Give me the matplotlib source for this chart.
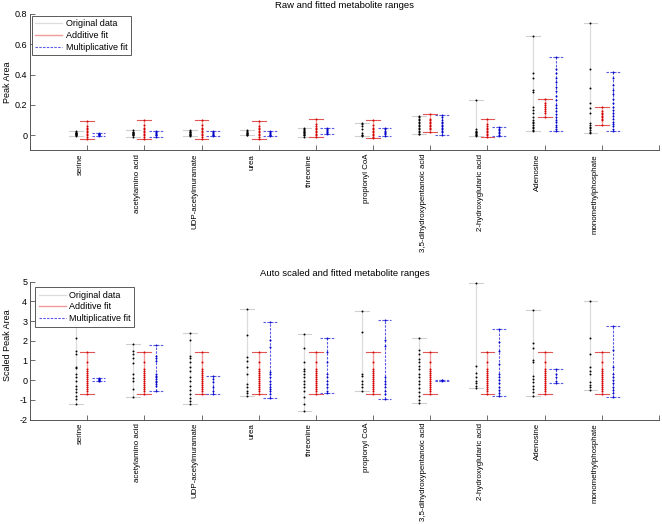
import matplotlib
matplotlib.use("Agg")
import matplotlib.pyplot as plt

plt.rcParams['font.family'] = ['Liberation Sans', 'DejaVu Sans']

metabolites = ["serine", "acetylamino acid", "UDP-acetylmuramate", "urea", "threonine",
               "propionyl CoA", "3,5-dihydroxypentanoic acid", "2-hydroxyglutaric acid",
               "Adenosine", "monomethylphosphate"]

# raw peak areas, one list per metabolite
raw_orig = [
    [0.028, 0.02, 0.017, 0.015, 0.013, 0.011, 0.009, 0.007, 0.005, 0.002, -0.005],
    [0.035, 0.025, 0.02, 0.017, 0.014, 0.011, 0.008, 0.005, 0.002, -0.009],
    [0.037, 0.03, 0.025, 0.02, 0.016, 0.012, 0.008, 0.004, 0.0, -0.003],
    [0.035, 0.028, 0.022, 0.018, 0.014, 0.01, 0.006, 0.003, 0.0],
    [0.05, 0.042, 0.035, 0.03, 0.025, 0.02, 0.015, 0.01, 0.005, 0.0, -0.01],
    [0.083, 0.075, 0.062, 0.045, 0.015, 0.005, 0.0, -0.003],
    [0.129, 0.12, 0.11, 0.1, 0.09, 0.08, 0.07, 0.06, 0.05, 0.04, 0.03, 0.02, 0.01, 0.006],
    [0.23, 0.04, 0.03, 0.025, 0.02, 0.015, 0.01, 0.005, 0.0, -0.003],
    [0.653, 0.412, 0.379, 0.298, 0.287, 0.184, 0.166, 0.149, 0.122, 0.1, 0.089, 0.079,
     0.068, 0.057, 0.046, 0.035, 0.03],
    [0.743, 0.438, 0.309, 0.21, 0.182, 0.149, 0.079, 0.068, 0.057, 0.046, 0.035, 0.024, 0.013],
]
raw_add = [
    [0.094, 0.06, 0.05, 0.04, 0.03, 0.02, 0.01, 0.0, -0.01, -0.024],
    [0.099, 0.065, 0.05, 0.04, 0.03, 0.02, 0.01, 0.0, -0.01, -0.022],
    [0.099, 0.065, 0.05, 0.04, 0.03, 0.02, 0.01, 0.0, -0.01, -0.024],
    [0.094, 0.06, 0.05, 0.04, 0.03, 0.02, 0.01, 0.0, -0.01, -0.026],
    [0.105, 0.075, 0.06, 0.05, 0.04, 0.03, 0.02, 0.01, 0.0, -0.01],
    [0.099, 0.065, 0.05, 0.04, 0.03, 0.02, 0.01, 0.0, -0.01, -0.018],
    [0.138, 0.11, 0.1, 0.09, 0.08, 0.07, 0.06, 0.05, 0.04, 0.02],
    [0.107, 0.075, 0.06, 0.05, 0.04, 0.03, 0.02, 0.01, 0.0, -0.011],
    [0.239, 0.21, 0.2, 0.188, 0.175, 0.16, 0.145, 0.12],
    [0.186, 0.16, 0.15, 0.14, 0.13, 0.12, 0.11, 0.1, 0.07],
]
raw_mul = [
    [0.017, 0.012, 0.009, 0.006, 0.003, 0.0, -0.003],
    [0.028, 0.02, 0.015, 0.01, 0.005, 0.0, -0.011],
    [0.028, 0.02, 0.015, 0.01, 0.005, 0.0, -0.005],
    [0.028, 0.02, 0.015, 0.01, 0.005, 0.0, -0.005],
    [0.05, 0.04, 0.033, 0.026, 0.02, 0.014, 0.007],
    [0.048, 0.04, 0.03, 0.022, 0.015, 0.008, -0.003],
    [0.131, 0.12, 0.1, 0.09, 0.08, 0.07, 0.06, 0.05, 0.04, 0.03, 0.02, 0.004],
    [0.055, 0.045, 0.035, 0.025, 0.015, 0.005, -0.003],
    [0.515, 0.44, 0.41, 0.38, 0.35, 0.32, 0.29, 0.26, 0.23, 0.2, 0.18, 0.16, 0.14, 0.12,
     0.1, 0.085, 0.07, 0.055, 0.04, 0.03],
    [0.416, 0.38, 0.33, 0.3, 0.27, 0.24, 0.21, 0.19, 0.17, 0.15, 0.13, 0.11, 0.09, 0.075,
     0.06, 0.045, 0.026],
]

# auto-scaled peak areas
auto_orig = [
    [2.9, 2.13, 1.5, 1.34, 0.69, 0.6, 0.32, 0.14, -0.03, -0.28, -0.45, -0.62, -0.79, -0.96, -1.21],
    [1.85, 1.5, 1.34, 1.13, 0.88, 0.32, 0.11, -0.03, -0.45, -0.88],
    [2.41, 2.02, 1.25, 1.13, 0.9, 0.65, 0.48, 0.14, -0.03, -0.28, -0.5, -0.7, -0.9, -1.04, -1.21],
    [3.63, 2.27, 1.2, 0.96, 0.65, 0.32, -0.19, -0.36, -0.53, -0.65, -0.79],
    [2.32, 1.62, 0.9, 0.57, 0.48, 0.32, 0.14, -0.03, -0.19, -0.36, -0.53, -0.88, -1.21, -1.59],
    [3.51, 2.47, 0.32, 0.23, -0.03, -0.19, -0.36, -0.54],
    [2.13, 1.54, 1.34, 1.08, 0.9, 0.74, 0.57, 0.32, 0.14, -0.03, -0.2, -0.4, -0.6, -0.8, -1.0, -1.16],
    [4.94, 0.74, 0.35, 0.14, -0.03, -0.16, -0.3, -0.42],
    [3.55, 1.88, 1.62, 1.03, 0.91, 0.23, 0.06, -0.11, -0.28, -0.45, -0.62, -0.83],
    [4.02, 2.13, 1.34, 0.69, 0.48, 0.32, -0.11, -0.23, -0.36, -0.52],
]
auto_add_base = [1.45, 0.9, 0.55, 0.45, 0.35, 0.25, 0.15, 0.05, -0.05, -0.15, -0.25, -0.35,
                 -0.45, -0.55, -0.7]
auto_add = [auto_add_base] * 10
auto_mul = [
    [0.12, 0.08, 0.05, 0.02, 0.0, -0.03, -0.05],
    [1.8, 1.25, 1.13, 0.99, 0.32, 0.23, 0.14, 0.06, -0.03, -0.11, -0.19, -0.28, -0.57],
    [0.23, 0.06, -0.11, -0.36, -0.53, -0.7],
    [2.97, 2.02, 1.67, 0.4, 0.32, 0.14, -0.03, -0.19, -0.36, -0.45, -0.53, -0.7, -0.91],
    [2.15, 1.42, 0.91, 0.32, 0.14, -0.03, -0.19, -0.36, -0.53, -0.67],
    [3.04, 2.02, 1.71, 0.14, -0.03, -0.19, -0.36, -0.53, -0.7, -0.96],
    [0.02, 0.0, -0.03],
    [2.58, 1.93, 1.47, 0.83, 0.33, 0.16, 0.0, -0.16, -0.33, -0.5, -0.66, -0.79],
    [0.57, 0.31, 0.14, -0.03, -0.16],
    [2.73, 1.54, 0.65, 0.32, 0.16, 0.0, -0.16, -0.33, -0.5, -0.66, -0.86],
]

FS = 6.5
XFS = 5.7
styles = [
    dict(line='#dcdcdc', cap='#d0d0d0', dot='k', ls='-', lw=0.9, dx=-0.2,
         label='Original data'),
    dict(line='#f29a9a', cap='#e25555', dot='#d40000', ls='-', lw=1.0, dx=0.0,
         label='Additive fit'),
    dict(line='#5a5ae6', cap='#5a5ae6', dot='#0000c8', ls=(0, (2.2, 1.2)), lw=0.8, dx=0.2,
         label='Multiplicative fit'),
]


def draw_col(ax, x, vals, st):
    lo, hi = min(vals), max(vals)
    ln, = ax.plot([x, x], [lo, hi], color=st['line'], ls=st['ls'], lw=st['lw'], zorder=1)
    for y in (lo, hi):
        ax.plot([x - 0.12, x + 0.12], [y, y], color=st['cap'], ls=st['ls'], lw=0.8, zorder=1)
    ax.plot([x] * len(vals), vals, '.', color=st['dot'], ms=2.8, mew=0, zorder=2)
    return ln


def panel(ax, groups, title, ylabel, ylim, yticks, yticklabels, leg_pad, ylab_y):
    handles = []
    for st, data in zip(styles, groups):
        for i, vals in enumerate(data):
            ln = draw_col(ax, i + 1 + st['dx'], vals, st)
        ln.set_label(st['label'])
        handles.append(ln)
    ax.set_xlim(0, 11)
    ax.set_ylim(*ylim)
    ax.set_xticks(range(12))
    ax.set_xticklabels([])
    ax.set_yticks(yticks)
    ax.set_yticklabels(yticklabels, fontsize=FS)
    ax.tick_params(direction='in', length=3.5, width=0.6, color='#555555', pad=2)
    for s in ('top', 'right'):
        ax.spines[s].set_visible(False)
    for s in ('left', 'bottom'):
        ax.spines[s].set_color('#555555')
        ax.spines[s].set_linewidth(0.7)
    ax.set_title(title, fontsize=6.8, pad=4)
    ax.set_ylabel(ylabel, fontsize=FS)
    ax.yaxis.set_label_coords(-0.028, ylab_y)
    for i, name in enumerate(metabolites):
        ax.annotate(name, xy=(i + 1 - 0.12, 0), xycoords=('data', 'axes fraction'),
                    xytext=(0, -2.5), textcoords='offset points', rotation=90,
                    rotation_mode='anchor', ha='right', va='center', fontsize=XFS)
    leg = ax.legend(handles=handles, loc='upper left', fontsize=FS, frameon=True,
                    fancybox=False, framealpha=1, edgecolor='#404040', borderpad=0.4,
                    labelspacing=0.3, handlelength=3.0, handletextpad=0.35,
                    borderaxespad=leg_pad)
    leg.get_frame().set_linewidth(0.6)


fig = plt.figure(figsize=(6.62, 5.24), dpi=100)
ax1 = fig.add_axes([0.0453, 0.7128, 0.9502, 0.2605])
ax2 = fig.add_axes([0.0453, 0.1994, 0.9502, 0.2630])

panel(ax1, [raw_orig, raw_add, raw_mul], 'Raw and fitted metabolite ranges', 'Peak Area',
      (-0.1, 0.8), [0, 0.2, 0.4, 0.6, 0.8], ['0', '0.2', '0.4', '0.6', '0.8'], 0.2, 0.5)
panel(ax2, [auto_orig, auto_add, auto_mul], 'Auto scaled and fitted metabolite ranges',
      'Scaled Peak Area', (-2, 5), list(range(-2, 6)), [str(v) for v in range(-2, 6)], 0.6, 0.54)

fig.savefig('out.png', dpi=100)
